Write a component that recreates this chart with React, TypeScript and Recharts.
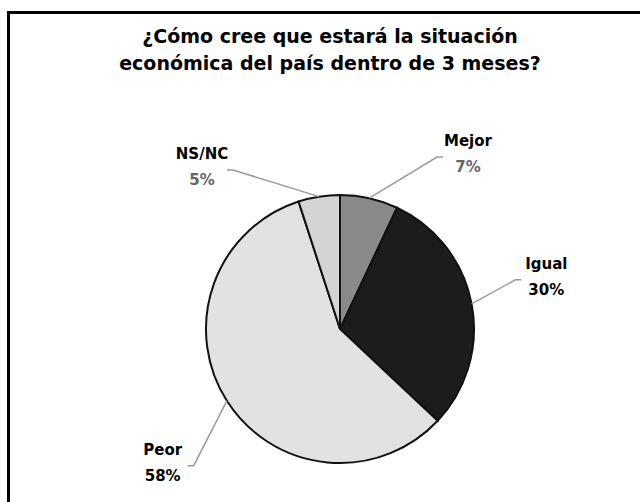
import { PieChart, Pie, Cell } from "recharts";

const categories = ["Mejor", "Igual", "Peor", "NS/NC"];
const shares = [7, 30, 58, 5];
const sliceColors = ["#8a8a8a", "#1c1c1c", "#e2e2e2", "#d4d4d4"];
const pctColors = ["#666666", "#000000", "#000000", "#666666"];

const data = categories.map((name, i) => ({ name, value: shares[i] }));

const RAD = Math.PI / 180;
const FONT = "DejaVu Sans, Verdana, sans-serif";

// label sits on an ellipse around the pie, held down under the title if it would go too high
function renderLabel(props: any) {
  const { cx, cy, midAngle, outerRadius, index, name, value } = props;
  const cos = Math.cos(-midAngle * RAD);
  const sin = Math.sin(-midAngle * RAD);
  const sx = cx + outerRadius * cos;
  const sy = cy + outerRadius * sin;
  const side = cos >= 0 ? 1 : -1;
  let tx = cx + 210 * cos;
  let ty = cy + 257 * sin;
  if (ty < cy - 160) {
    ty = cy - 164.5 - side * 6.5;
    tx = cx + side * 133 - 5;
  }
  const ex = tx - side * 31;
  const ey = ty - 1;
  return (
    <g>
      <polyline
        points={`${sx},${sy} ${ex},${ey} ${ex + side * 6},${ey}`}
        fill="none"
        stroke="#9a9a9a"
        strokeWidth={1.5}
      />
      <text
        x={tx}
        y={ty - 12}
        textAnchor="middle"
        fontFamily={FONT}
        fontWeight="bold"
        fontSize={15}
        fill="#000"
      >
        {name}
      </text>
      <text
        x={tx}
        y={ty + 14}
        textAnchor="middle"
        fontFamily={FONT}
        fontWeight="bold"
        fontSize={15}
        fill={pctColors[index]}
      >
        {value}%
      </text>
    </g>
  );
}

export default function App() {
  return (
    <div
      style={{
        position: "absolute",
        left: 0,
        top: 0,
        width: 640,
        height: 502,
        overflow: "hidden",
        background: "#fff",
        fontFamily: FONT,
      }}
    >
      <div
        style={{
          position: "absolute",
          left: 7,
          top: 11,
          width: 700,
          height: 600,
          borderTop: "3px solid #000",
          borderLeft: "3px solid #000",
        }}
      />
      <div
        style={{
          position: "absolute",
          left: 30,
          top: 23,
          width: 600,
          textAlign: "center",
          fontWeight: "bold",
          fontSize: 19,
          lineHeight: "27px",
          color: "#000",
        }}
      >
        ¿Cómo cree que estará la situación
        <br />
        económica del país dentro de 3 meses?
      </div>
      <div style={{ position: "absolute", left: 0, top: 0 }}>
        <PieChart width={640} height={502}>
          <Pie
            data={data}
            dataKey="value"
            nameKey="name"
            cx={335}
            cy={324}
            outerRadius={134}
            startAngle={90}
            endAngle={-270}
            stroke="#111"
            strokeWidth={2}
            label={renderLabel}
            labelLine={false}
            isAnimationActive={false}
          >
            {data.map((d, i) => (
              <Cell key={d.name} fill={sliceColors[i]} />
            ))}
          </Pie>
        </PieChart>
      </div>
    </div>
  );
}
